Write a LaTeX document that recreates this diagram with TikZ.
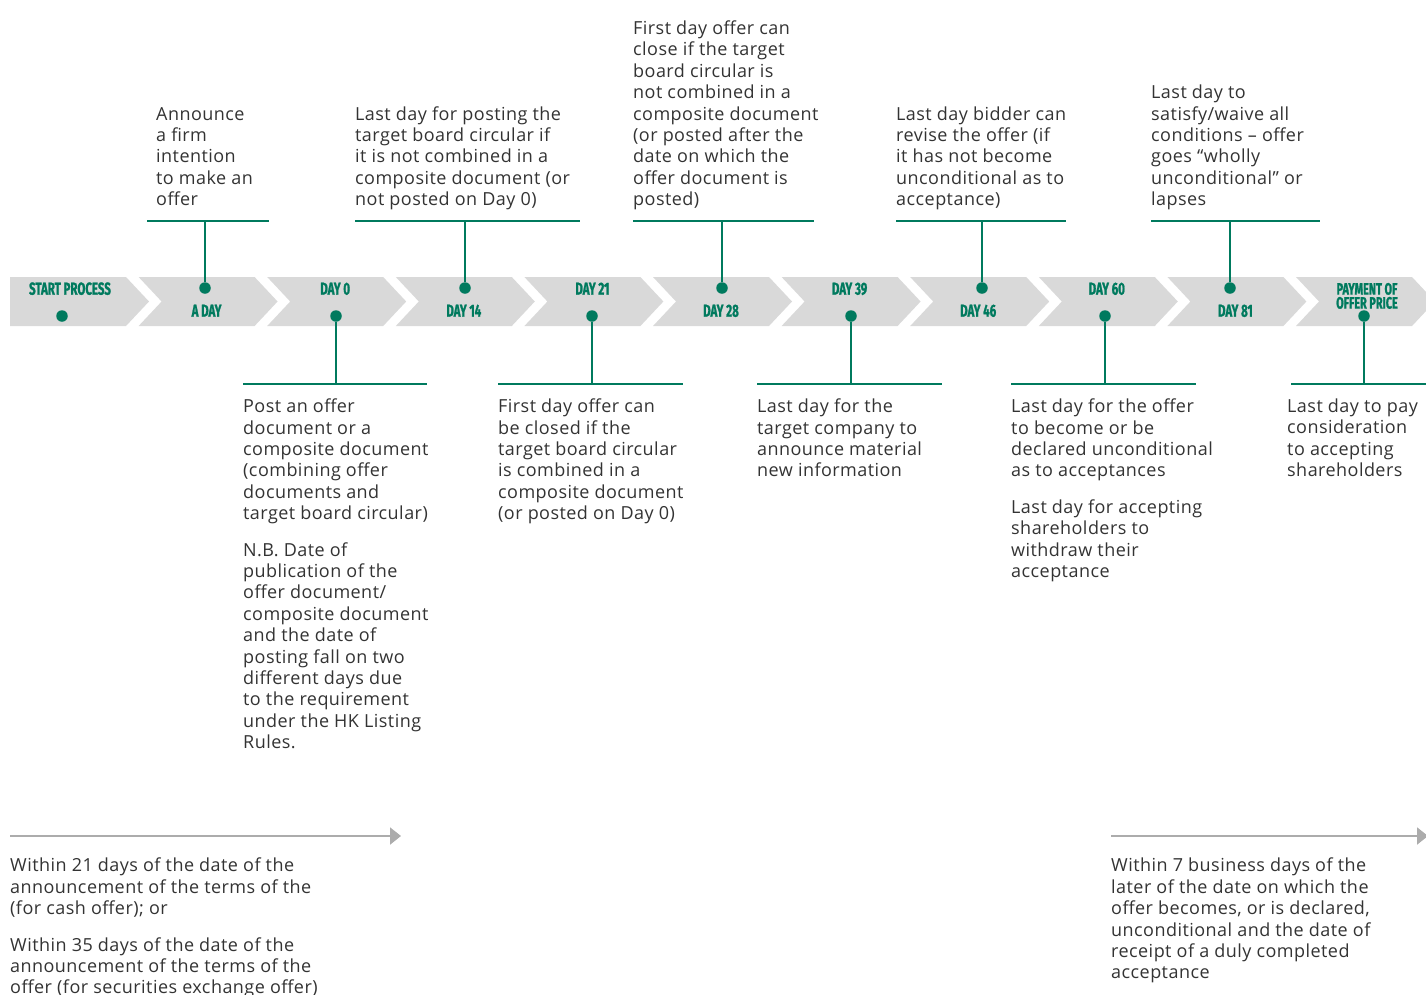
\documentclass[tikz,border=0pt]{standalone}
\usepackage{fontspec}
\setmainfont{Open Sans}[LetterSpace=2.5]
\newfontfamily\dayfont[FakeStretch=0.66,FakeBold=1.2]{Fira Sans}
\usetikzlibrary{arrows.meta}
\definecolor{hsgreen}{RGB}{0,122,94}
\definecolor{bandgrey}{RGB}{217,217,217}
\definecolor{notegrey}{RGB}{51,51,51}
\definecolor{spangrey}{RGB}{172,172,172}
\tikzset{
  chevron/.style={fill=bandgrey},
  daylab/.style={inner sep=0, text=hsgreen, align=center, font=\dayfont\bfseries\fontsize{17.4}{13.6}\selectfont},
  daydot/.style={circle, fill=hsgreen, inner sep=0, minimum size=11.5pt},
  stem/.style={draw=hsgreen, line width=2pt},
  topnote/.style={inner sep=0, anchor=south west, align=left, text=notegrey, font=\fontsize{18}{21.4}\selectfont, execute at end node=\strut},
  lownote/.style={inner sep=0, anchor=north west, align=left, text=notegrey, font=\fontsize{18}{21.4}\selectfont, execute at begin node=\strut},
  spanarrow/.style={draw=spangrey, line width=2pt, -{Triangle[length=11pt,width=17pt]}}
}
\begin{document}
\begin{tikzpicture}[x=1pt, y=-1pt, line join=round]
\useasboundingbox (0,0) rectangle (1426,994);
\fill[chevron] (10,277) -- (126,277) -- (149,301.5) -- (126,326) -- (10,326) -- cycle;
\foreach \i in {1,...,10}{
  \pgfmathsetmacro\c{78+128.6*\i}
  \fill[chevron] (\c-68,277) -- (\c+48,277) -- (\c+71,301.5) -- (\c+48,326) -- (\c-68,326) -- (\c-45,301.5) -- cycle;
}
\node[daylab, anchor=base] (l0) at (70,294.7) {START PROCESS};
\node[daylab, anchor=base] (l1) at (206.6,316.7) {A DAY};
\node[daylab, anchor=base] (l2) at (335.2,294.7) {DAY 0};
\node[daylab, anchor=base] (l3) at (463.8,316.7) {DAY 14};
\node[daylab, anchor=base] (l4) at (592.4,294.7) {DAY 21};
\node[daylab, anchor=base] (l5) at (721,316.7) {DAY 28};
\node[daylab, anchor=base] (l6) at (849.6,294.7) {DAY 39};
\node[daylab, anchor=base] (l7) at (978.2,316.7) {DAY 46};
\node[daylab, anchor=base] (l8) at (1106.8,294.7) {DAY 60};
\node[daylab, anchor=base] (l9) at (1235.4,316.7) {DAY 81};
\node[daylab, anchor=north, font=\dayfont\bfseries\fontsize{16.5}{14}\selectfont] (l10) at (1367,282.7) {PAYMENT OF\\OFFER PRICE};
\node[daydot] (d0) at (62,316) {};
\foreach \n/\x/\y/\by/\a/\b in {1/205/288/221/147/269, 3/465/288/221/355/580, 5/722/288/221/633/814, 7/982/288/221/896/1066, 9/1230/288/221/1151/1320, 2/336/316/384/243/427, 4/592/316/384/498/683, 6/851/316/384/757/942, 8/1105/316/384/1011/1196, 10/1364/316/384/1291/1430}{
  \node[daydot] (d\n) at (\x,\y) {};
  \coordinate (b\n) at (\x,\by);
  \draw[stem] (d\n) -- (b\n);
  \draw[stem] (\a,\by) -- (\b,\by);
}
\node[topnote] (n1) at (156,212.4) {Announce\\a firm\\intention\\to make an\\offer};
\node[topnote] (n3) at (355,212.4) {Last day for posting the\\target board circular if\\it is not combined in a\\composite document (or\\not posted on Day 0)};
\node[topnote] (n5) at (633,212.4) {First day offer can\\close if the target\\board circular is\\not combined in a\\composite document\\(or posted after the\\date on which the\\offer document is\\posted)};
\node[topnote] (n7) at (896,212.4) {Last day bidder can\\revise the offer (if\\it has not become\\unconditional as to\\acceptance)};
\node[topnote] (n9) at (1151,212.4) {Last day to\\satisfy/waive all\\conditions – offer\\goes “wholly\\unconditional” or\\lapses};
\node[lownote] (n2) at (243,398.7) {Post an offer\\document or a\\composite document\\(combining offer\\documents and\\target board circular)\\[15pt]N.B. Date of\\publication of the\\offer document/\\composite document\\and the date of\\posting fall on two\\different days due\\to the requirement\\under the HK Listing\\Rules.};
\node[lownote] (n4) at (498,398.7) {First day offer can\\be closed if the\\target board circular\\is combined in a\\composite document\\(or posted on Day 0)};
\node[lownote] (n6) at (757,398.7) {Last day for the\\target company to\\announce material\\new information};
\node[lownote] (n8) at (1011,398.7) {Last day for the offer\\to become or be\\declared unconditional\\as to acceptances\\[15pt]Last day for accepting\\shareholders to\\withdraw their\\acceptance};
\node[lownote] (n10) at (1287,398.7) {Last day to pay\\consideration\\to accepting\\shareholders};
\coordinate (s1) at (10,836);
\coordinate (e1) at (401,836);
\draw[spanarrow] (s1) -- (e1);
\coordinate (s2) at (1111,836);
\coordinate (e2) at (1428,836);
\draw[spanarrow] (s2) -- (e2);
\node[lownote] (w1) at (10,858) {Within 21 days of the date of the\\announcement of the terms of the\\(for cash offer); or\\[15pt]Within 35 days of the date of the\\announcement of the terms of the\\offer (for securities exchange offer)};
\node[lownote] (w2) at (1111,858) {Within 7 business days of the\\later of the date on which the\\offer becomes, or is declared,\\unconditional and the date of\\receipt of a duly completed\\acceptance};
\end{tikzpicture}
\end{document}
